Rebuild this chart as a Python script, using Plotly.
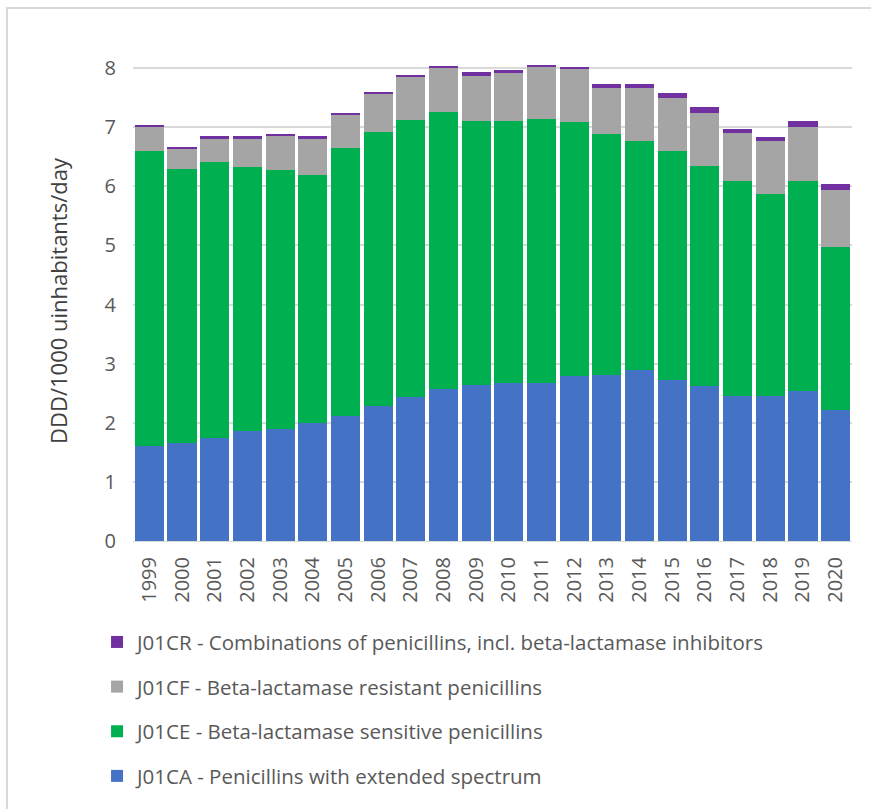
import plotly.graph_objects as go

years = [str(y) for y in range(1999, 2021)]
j01ca = [1.61, 1.65, 1.74, 1.86, 1.90, 1.99, 2.12, 2.29, 2.44, 2.57, 2.64, 2.67, 2.67, 2.79, 2.81, 2.90, 2.72, 2.62, 2.46, 2.46, 2.53, 2.22]
j01ce = [4.99, 4.65, 4.67, 4.46, 4.38, 4.21, 4.53, 4.63, 4.69, 4.69, 4.46, 4.43, 4.47, 4.29, 4.08, 3.86, 3.88, 3.73, 3.63, 3.41, 3.56, 2.76]
j01cf = [0.40, 0.33, 0.39, 0.48, 0.57, 0.60, 0.55, 0.64, 0.72, 0.74, 0.76, 0.81, 0.88, 0.91, 0.77, 0.90, 0.89, 0.89, 0.82, 0.90, 0.92, 0.95]
j01cr = [0.04, 0.04, 0.05, 0.05, 0.04, 0.05, 0.04, 0.04, 0.04, 0.04, 0.07, 0.05, 0.04, 0.03, 0.07, 0.07, 0.09, 0.10, 0.06, 0.07, 0.09, 0.11]

names = [
    "J01CA - Penicillins with extended spectrum",
    "J01CE - Beta-lactamase sensitive penicillins",
    "J01CF - Beta-lactamase resistant penicillins",
    "J01CR - Combinations of penicillins, incl. beta-lactamase inhibitors",
]
colors = ["#4472C4", "#00B050", "#A5A5A5", "#7030A0"]
series = [j01ca, j01ce, j01cf, j01cr]
ranks = [4, 3, 2, 1]

FONT = "Open Sans"
fig = go.Figure()
for i, (n, c, s) in enumerate(zip(names, colors, series)):
    fig.add_trace(go.Bar(x=years, y=s, name=n, marker=dict(color=c, line=dict(width=0)),
                         legendgroup=f"g{i}", legendrank=ranks[i]))

fig.update_layout(
    barmode="stack",
    bargap=0.11,
    width=871, height=809,
    margin=dict(l=133, r=19, t=61, b=268),
    paper_bgcolor="white", plot_bgcolor="white",
    font=dict(family=FONT, color="#595959"),
    xaxis=dict(tickangle=-90, tickfont=dict(size=20, color="#595959"), showgrid=False,
               showline=True, linecolor="#d9d9d9", linewidth=1, ticks="", ticklabelstandoff=7),
    yaxis=dict(range=[0, 8.12], tickvals=[0, 1, 2, 3, 4, 5, 6, 7, 8],
               tickfont=dict(size=20, color="#595959"),
               showgrid=True, gridcolor="#d9d9d9", gridwidth=1.5, zeroline=False,
               title=dict(text="DDD/1000 uinhabitants/day", font=dict(size=22, color="#404040"), standoff=30),
               ticks="", ticklabelstandoff=16),
    legend=dict(orientation="v", traceorder="grouped", tracegroupgap=15,
                x=-0.05, xanchor="left", y=-0.169, yanchor="top",
                font=dict(size=20.5, color="#595959"), itemwidth=30),
    showlegend=True,
)

# outer chart border (partly visible, top and left)
fig.add_shape(type="rect", xref="paper", yref="paper",
              x0=(7 - 133) / 719, x1=1.5, y0=-1.0, y1=(541 - 8) / 480,
              line=dict(color="#d9d9d9", width=2), fillcolor="rgba(0,0,0,0)", layer="below")

fig.write_html("out.html")
